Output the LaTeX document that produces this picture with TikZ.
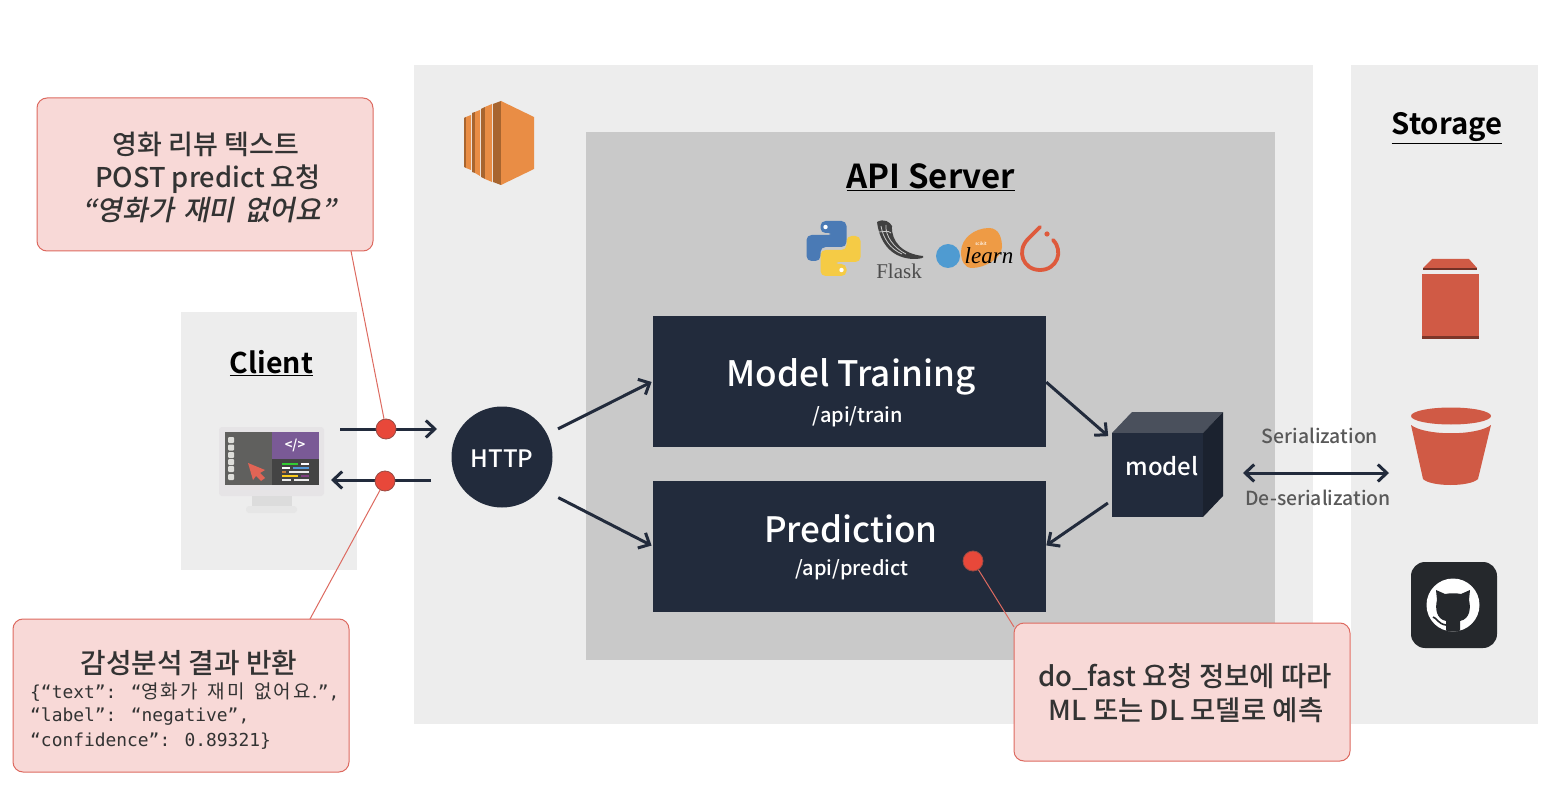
\documentclass[tikz,border=0pt]{standalone}
\usepackage{fontspec}
\usetikzlibrary{arrows.meta}
\setmainfont{Noto Sans CJK KR}[UprightFeatures={},BoldFont={Noto Sans CJK KR Bold},UprightFont={Noto Sans CJK KR Medium}]
\newfontfamily\slantkr[FakeSlant=0.2,WordSpace=1.5]{Noto Sans CJK KR Medium}
\newfontfamily\cjk[LetterSpace=10,WordSpace=1.6]{Noto Sans CJK KR}
\newfontfamily\monof{DejaVu Sans Mono}
\newfontfamily\serf{Liberation Serif}
\newcommand{\fs}[1]{\fontsize{#1}{#1}\selectfont}
\definecolor{navy}{HTML}{222B3C}
\definecolor{panel}{HTML}{EDEDED}
\definecolor{apibg}{HTML}{C9C9C9}
\definecolor{pinkbg}{HTML}{F8D9D7}
\definecolor{pinkln}{HTML}{DD6A60}
\definecolor{dotred}{HTML}{E8483A}
\definecolor{brick}{HTML}{D05A45}
\definecolor{txt}{HTML}{333333}
\definecolor{ecl}{HTML}{E98D45}
\definecolor{ecd}{HTML}{A8652F}
\definecolor{torch}{HTML}{DE5A3C}
\tikzset{
  panelbox/.style={fill=panel,draw=none,inner sep=0pt,outer sep=0pt},
  navybox/.style={fill=navy,draw=none,inner sep=0pt,outer sep=0pt,minimum width=393pt},
  callout/.style={fill=pinkbg,draw=pinkln,line width=1pt,rounded corners=10pt,inner sep=0pt,minimum width=336pt,text=txt},
  arr/.style={draw=navy,line width=3pt,-{Straight Barb[length=9pt,width=17pt,line width=3pt]}},
  leader/.style={draw=pinkln,line width=1pt},
  dotn/.style={circle,fill=dotred,draw=pinkln!70!black,line width=.8pt,minimum size=20pt,inner sep=0pt},
  head/.style={font=\bfseries,text=black,inner sep=0pt},
  white text/.style={text=white,inner sep=0pt},
  gtxt/.style={text=black!65,inner sep=0pt,font=\fs{19.4}}
}
\begin{document}
\begin{tikzpicture}[x=1pt,y=-1pt]
\useasboundingbox (0,0) rectangle (1556,786);
\fill[white] (0,0) rectangle (1556,786);
% panels
\node[panelbox,minimum width=899pt,minimum height=659pt] (main) at (863.5,394.5) {};
\node[panelbox,minimum width=187pt,minimum height=659pt] (storage) at (1444.5,394.5) {};
\node[panelbox,minimum width=176pt,minimum height=258pt] (client) at (269,441) {};
\node[panelbox,fill=apibg,minimum width=689pt,minimum height=528pt] (api) at (930.5,396) {};
% headings
\node[head,font=\fs{33}\bfseries] (apit) at (931,177) {\underline{API Server}};
\node[head,font=\fs{28.5}\bfseries] (clientt) at (271.5,363) {\underline{Client}};
\node[head,font=\fs{29.3}\bfseries] (storaget) at (1447,128.5) {\underline{Storage}};
% EC2 icon
\fill[ecd] (464,118) -- (466,117) -- (466,168) -- (464,167) -- cycle;
\fill[ecl] (466,117) -- (471,115) -- (471,170) -- (466,168) -- cycle;
\fill[ecd] (472,113) -- (475,112) -- (475,173) -- (472,172) -- cycle;
\fill[ecl] (475,112) -- (480,110) -- (480,176) -- (475,173) -- cycle;
\fill[ecd] (481,109) -- (485,107) -- (485,179) -- (481,177) -- cycle;
\fill[ecl] (485,107) -- (492,104) -- (492,182) -- (485,179) -- cycle;
\fill[ecd] (493,104) -- (501,101) -- (501,185) -- (493,182) -- cycle;
\fill[ecl] (501,101) -- (534,117) -- (534,169) -- (501,185) -- cycle;
% python logo
\begin{scope}[shift={(806.5,221)}]
\fill[rounded corners=5pt,fill={rgb,255:red,74;green,122;blue,181}]
  (14,0) -- (40,0) -- (40,26) -- (14,26) -- (14,40) -- (0,40) -- (0,14) -- (27,14) -- (27,12) -- (14,12) -- cycle;
\fill[rounded corners=5pt,fill={rgb,255:red,245;green,203;blue,69},rotate around={180:(27,27.5)}]
  (14,0) -- (40,0) -- (40,26) -- (14,26) -- (14,40) -- (0,40) -- (0,14) -- (27,14) -- (27,12) -- (14,12) -- cycle;
\fill[white] (19,6) circle[radius=2.2pt] (35,49) circle[radius=2.2pt];
\end{scope}
% flask
\fill[black!75] (877,222) .. controls (884,218) and (890,222) .. (892,226) .. controls (891,242) and (903,254) .. (923,256)
  .. controls (925,258) and (920,259) .. (913,259) .. controls (893,258) and (880,245) .. (877,222) -- cycle;
\draw[apibg,line width=.8pt] (881,226) .. controls (883,238) and (890,249) .. (902,254)
  (886,225) .. controls (885,236) and (894,248) .. (906,254)
  (878,232) .. controls (884,232) and (888,230) .. (891,233);
\node[inner sep=0pt,text=black!70,font=\serf\fs{21}] (flask) at (899,271) {Flask};
% sklearn
\fill[fill={rgb,255:red,79;green,155;blue,209}] (948,256) ellipse[x radius=12pt,y radius=12pt];
\fill[fill={rgb,255:red,238;green,155;blue,69}] (961,252) .. controls (961,238) and (975,228) .. (989,228) .. controls (1000,228) and (1002,240) .. (1002,247) .. controls (1002,258) and (985,268) .. (972,268) .. controls (964,268) and (961,260) .. (961,252) -- cycle;
\node[inner sep=0pt,text=white,font=\fs{4.5}] (sk) at (981,243.5) {scikit};
\node[inner sep=0pt,text=black,font=\serf\itshape\fs{23}] (learn) at (989,256) {learn};
% pytorch
\draw[torch,line width=3.8pt,line cap=round] (1040,227) -- (1028,239) .. controls (1016,251) and (1023,270) .. (1040,270)
  .. controls (1057,270) and (1064,251) .. (1053,240);
\fill[torch] (1047,234) circle[radius=2.6pt];
% boxes
\node[navybox,minimum height=131pt] (train) at (849,381.5) {};
\node[navybox,minimum height=131pt] (pred) at (849,546) {};
\node[white text,font=\fs{35.1}] (traint) at (851,376.5) {Model Training};
\node[white text,font=\fs{20}] (trainp) at (858,417) {/api/train};
\node[white text,font=\fs{35}] (predt) at (851,529) {Prediction};
\node[white text,font=\fs{20}] (predp) at (852,570) {/api/predict};
\node[circle,fill=navy,minimum size=101pt,inner sep=0pt] (http) at (502,457) {};
\node[white text,font=\fs{24}] (httpt) at (502,459) {HTTP};
% cube
\fill[fill={rgb,255:red,74;green,80;blue,92}] (1112,433) -- (1132,412) -- (1223,412) -- (1203,433) -- cycle;
\fill[fill={rgb,255:red,27;green,34;blue,47}] (1203,433) -- (1223,412) -- (1223,496) -- (1203,517) -- cycle;
\node[fill=navy,minimum width=91pt,minimum height=84pt,inner sep=0pt,outer sep=0pt] (model) at (1157.5,475) {};
\node[white text,font=\fs{24}] (modelt) at (1162,466) {model};
% monitor
\fill[fill={rgb,255:red,230;green,228;blue,230},rounded corners=3pt] (219,427) rectangle (324,496);
\fill[fill={rgb,255:red,220;green,220;blue,220}] (252,496) rectangle (292,506);
\fill[fill={rgb,255:red,230;green,230;blue,230},rounded corners=3pt] (246,506) rectangle (297,513);
\fill[fill={rgb,255:red,96;green,96;blue,94}] (225,432) rectangle (319,485);
\fill[fill={rgb,255:red,122;green,90;blue,150}] (272,432) rectangle (319,459);
\fill[fill={rgb,255:red,68;green,68;blue,68}] (272,459) rectangle (319,485);
\foreach \yy in {437,444.5,452,459,466,474}
  \fill[fill={rgb,255:red,222;green,222;blue,218},rounded corners=1pt] (228,\yy) rectangle (234,\yy+6);
\fill[fill={rgb,255:red,225;green,100;blue,85}] (248,463) -- (265,470) -- (260,473) -- (265,478) -- (261,481) -- (256,476) -- (253,480) -- cycle;
\node[inner sep=0pt,text=white,font=\fs{13}\bfseries] (codei) at (295,445.5) {</>};
\foreach \xa/\xb/\yy/\cc in {282/298/464/green!60!gray,301/309/464/white,282/290/468/white,293/309/468/cyan!60!blue!70!white,282/286/472/brown!90!orange,289/309/472/white!85!gray,282/298/476/yellow!60!orange!90!white,301/309/476/violet!50!gray,282/291/480/white!85!gray,294/309/480/white!85!gray}
  \fill[\cc] (\xa,\yy-1) rectangle (\xb,\yy+1);
% storage icons
\fill[brick] (1423,268) -- (1432,259) -- (1469,259) -- (1477,268) -- cycle;
\fill[brick!55!black] (1423,268) rectangle (1477,270.5);
\fill[brick] (1422,274) rectangle (1479,339);
\fill[brick!60!black] (1422,336) rectangle (1479,339);
\fill[brick] (1451,416) ellipse[x radius=40pt,y radius=8.5pt];
\fill[brick] (1411,425) .. controls (1425,436) and (1477,436) .. (1491,425) -- (1478,479) .. controls (1470,487) and (1431,487) .. (1423,479) -- cycle;
\fill[fill={rgb,255:red,37;green,40;blue,44},rounded corners=14pt] (1411,562) rectangle (1497,648);
\fill[white] (1453,605) circle[radius=26.5pt];
\begin{scope}
\clip (1453,605) circle[radius=26.5pt];
\fill[fill={rgb,255:red,37;green,40;blue,44}] (1446,634) -- (1446,621) .. controls (1436,619) and (1435,608) .. (1437,600) -- (1436,590) -- (1445,594)
  .. controls (1450,593) and (1456,593) .. (1461,594) -- (1470,590) -- (1469,600) .. controls (1471,608) and (1470,619) .. (1460,621) -- (1460,634) -- cycle;
\draw[fill=none,draw={rgb,255:red,37;green,40;blue,44},line width=1.6pt] (1433,617) .. controls (1437,618) and (1438,624) .. (1446,625);
\end{scope}
% arrows
\coordinate (a1s) at (340,429); \coordinate (a1e) at (437,429);
\coordinate (a2s) at (431,480); \coordinate (a2e) at (331,480);
\coordinate (ss) at (1243,473); \coordinate (se) at (1389,473);
\draw[arr] (a1s) -- (a1e);
\draw[arr] (a2s) -- (a2e);
\draw[arr,shorten <=12pt,shorten >=1pt] (http) -- (train.west);
\draw[arr,shorten <=19pt,shorten >=1pt] (http.-39) -- (pred.west);
\draw[arr,shorten <=1pt,shorten >=5pt] (train.east) -- (model.142);
\draw[arr,shorten <=5pt,shorten >=1pt] (model.209) -- (pred.east);
\draw[draw=navy,line width=3pt,{Straight Barb[length=9pt,width=17pt,line width=3pt]}-{Straight Barb[length=9pt,width=17pt,line width=3pt]}] (ss) -- (se);
\node[gtxt] (ser) at (1320,436) {Serialization};
\node[gtxt] (deser) at (1318,498) {De-serialization};
% callouts
\node[callout,minimum height=153pt] (c1) at (205,174.5) {};
\node[inner sep=0pt,text=txt,font=\fs{27}] (c1a) at (206,144) {영화 리뷰 텍스트};
\node[inner sep=0pt,text=txt,font=\fs{27.2}] (c1b) at (208,179) {POST predict 요청};
\node[inner sep=0pt,text=txt,font=\slantkr\fs{28}] (c1c) at (209,210) {“영화가 재미 없어요”};
\node[callout,minimum height=153pt] (c2) at (181,695.5) {};
\node[inner sep=0pt,text=txt,font=\fs{27.8}] (c2a) at (189,663) {감성분석 결과 반환};
\node[inner sep=0pt,anchor=west,text=txt,font=\monof\fs{17.9}] (c2b) at (30,692) {\{“text”: “{\cjk\fs{19}영화가 재미 없어요.}”,};
\node[inner sep=0pt,anchor=west,text=txt,font=\monof\fs{17.9}] (c2c) at (30,717) {“label”: “negative”,};
\node[inner sep=0pt,anchor=west,text=txt,font=\monof\fs{17.9}] (c2d) at (30,741) {“confidence”: 0.89321\}};
\node[callout,minimum height=138pt] (c3) at (1182,692) {};
\node[inner sep=0pt,text=txt,font=\fs{27.5}] (c3a) at (1185,677) {do\_fast 요청 정보에 따라};
\node[inner sep=0pt,text=txt,font=\fs{27.5}] (c3b) at (1186,710) {ML 또는 DL 모델로 예측};
% dots and leaders
\node[dotn] (d1) at (386,429) {};
\node[dotn] (d2) at (385,481) {};
\node[dotn] (d3) at (973,561) {};
\coordinate (l1) at (351,251);
\coordinate (l2) at (310,619);
\coordinate (l3) at (1014,627);
\draw[leader] (l1) -- (d1);
\draw[leader] (l2) -- (d2);
\draw[leader] (l3) -- (d3);
\end{tikzpicture}
\end{document}
